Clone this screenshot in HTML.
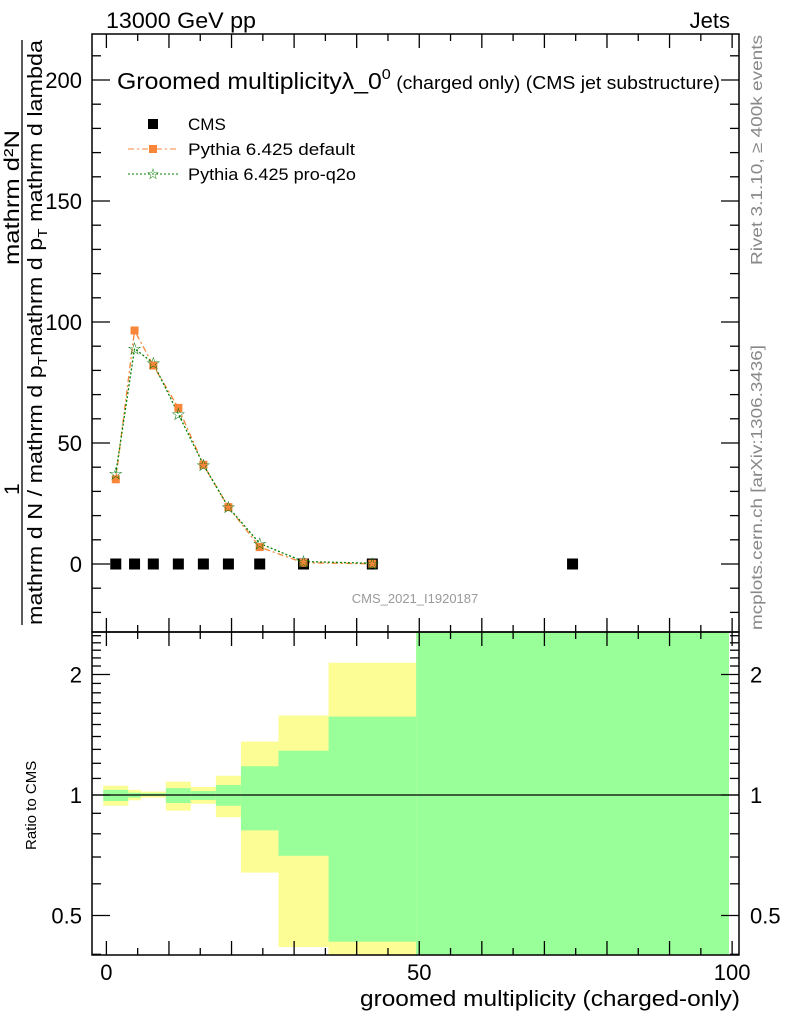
<!DOCTYPE html>
<html><head><meta charset="utf-8"><style>
html,body{margin:0;padding:0;background:#fff;}
svg{display:block;font-family:"Liberation Sans","DejaVu Sans",sans-serif;}
</style></head><body>
<svg id="c" width="786" height="1024" viewBox="0 0 786 1024">
<text x="106" y="28" font-size="22" textLength="150" lengthAdjust="spacingAndGlyphs">13000 GeV pp</text>
<text x="730" y="28" font-size="22" text-anchor="end">Jets</text>
<g id="fills"></g>
<g id="grid"></g>
<g id="marks"></g>
<rect x="92" y="34" width="647" height="598" fill="none" stroke="#000" stroke-width="1.5"/>
<rect x="92" y="632" width="647" height="323" fill="none" stroke="#000" stroke-width="1.5"/>
<text x="117" y="89" font-size="23" textLength="603" lengthAdjust="spacingAndGlyphs">Groomed multiplicityλ_0<tspan dy="-10" font-size="15">0</tspan><tspan dy="10" font-size="18"> (charged only) (CMS jet substructure)</tspan></text>
<g>
<rect x="148" y="119" width="10" height="10" fill="#000"/>
<text x="188" y="130" font-size="17">CMS</text>
<line x1="128" y1="149" x2="178" y2="149" stroke="#f7863a" stroke-dasharray="6,3,2,3"/>
<rect x="149" y="145" width="8" height="8" fill="#f7863a"/>
<text x="188" y="155" font-size="17" textLength="167" lengthAdjust="spacingAndGlyphs">Pythia 6.425 default</text>
<line x1="128" y1="174" x2="178" y2="174" stroke="#008000" stroke-dasharray="2,2"/>
<text x="153" y="179" font-size="15" fill="#008000" font-weight="bold" text-anchor="middle">☆</text>
<text x="188" y="180" font-size="17" textLength="168" lengthAdjust="spacingAndGlyphs">Pythia 6.425 pro-q2o</text>
</g>
<text x="415" y="603" font-size="13" fill="#999" text-anchor="middle">CMS_2021_I1920187</text>
<text transform="translate(762,265) rotate(-90)" font-size="16" fill="#888" textLength="230" lengthAdjust="spacingAndGlyphs">Rivet 3.1.10, ≥ 400k events</text>
<text transform="translate(762,630) rotate(-90)" font-size="16" fill="#888" textLength="285" lengthAdjust="spacingAndGlyphs">mcplots.cern.ch [arXiv:1306.3436]</text>
<g>
<text transform="translate(19,495) rotate(-90)" font-size="21">1</text>
<line x1="22" y1="625" x2="22" y2="40" stroke="#000" stroke-width="1.3"/>
<text transform="translate(19,265) rotate(-90)" font-size="21" textLength="135" lengthAdjust="spacingAndGlyphs">mathrm d²N</text>
<text transform="translate(42,625) rotate(-90)" font-size="20" textLength="585" lengthAdjust="spacingAndGlyphs">mathrm d N / mathrm d p<tspan font-size="13" dy="5">T</tspan><tspan dy="-5">mathrm d p</tspan><tspan font-size="13" dy="5">T</tspan><tspan dy="-5"> mathrm d lambda</tspan></text>
</g>
<text transform="translate(36,850) rotate(-90)" font-size="15">Ratio to CMS</text>
<text x="740" y="1006" font-size="22" text-anchor="end" textLength="380" lengthAdjust="spacingAndGlyphs">groomed multiplicity (charged-only)</text>
</svg>
<script>
const binEdges=[-0.5,3.5,5.5,9.5,13.5,17.5,21.5,27.5,35.5,49.5,99.5];
const binCenters=[1.5,4.5,7.5,11.5,15.5,19.5,24.5,31.5,42.5,74.5];
const cmsValues=[0,0,0,0,0,0,0,0,0,0];
const defaultValues=[35,96.5,82,64.5,41,23.5,7,0.5,0.1];
const proq2oValues=[37.5,89,83,62,41,23.5,8.5,1,0.3];
const bandYellowHi=[1.055,1.03,1.02,1.08,1.047,1.117,1.36,1.58,2.14,3];
const bandYellowLo=[0.94,0.97,0.985,0.914,0.951,0.88,0.64,0.417,0.3,0.3];
const bandGreenHi=[1.03,1.013,1.01,1.04,1.023,1.059,1.18,1.29,1.57,3];
const bandGreenLo=[0.966,0.985,0.995,0.955,0.972,0.94,0.816,0.705,0.43,0.3];
const xTicks=[0,50,100];
const yTicks=[0,50,100,150,200];
const rTicks=[0.5,1,2];

const NS="http://www.w3.org/2000/svg";
const X0=92,X1=739,xmin=-2.3,xmax=101.1;
const sx=v=>X0+(v-xmin)/(xmax-xmin)*(X1-X0);
const sy=v=>564-v*2.42;
const ry=v=>{let y=795-Math.log2(v)*120.5;return Math.max(632,Math.min(955,y));};
function mk(tag,attrs,parent){const e=document.createElementNS(NS,tag);for(const k in attrs)e.setAttribute(k,attrs[k]);document.getElementById(parent).appendChild(e);return e;}

for(let i=0;i<binCenters.length;i++){
  const xa=sx(binEdges[i]),xb=Math.min(sx(binEdges[i+1]),X1);
  let r=mk('rect',{x:xa,y:ry(bandYellowHi[i]),width:xb-xa,height:ry(bandYellowLo[i])-ry(bandYellowHi[i]),fill:'#fdfd96'},'fills');
  
  
  let g=mk('rect',{x:xa,y:ry(bandGreenHi[i]),width:xb-xa,height:ry(bandGreenLo[i])-ry(bandGreenHi[i]),fill:'#99ff99'},'fills');
  
  
}
let l1=mk('line',{x1:X0,x2:X1,y1:ry(1),y2:ry(1),stroke:'#000','stroke-width':1.3},'marks');



for(let v=0;v<=100;v+=5){
  const x=sx(v),len=(v%10===0)?14:7;
  [[34,1],[632,-1],[632,1],[955,-1]].forEach(([y,d])=>{
    const t=mk('line',{x1:x,x2:x,y1:y,y2:y+d*len,stroke:'#000','stroke-width':1.3},'grid');
    
    
  });
}
xTicks.forEach(v=>{const t=mk('text',{x:sx(v),y:980,'font-size':22,'text-anchor':'middle'},'grid');t.textContent=v;
  
  });
for(let v=-20;v<=210;v+=10){
  const y=sy(v);if(y<34||y>632)continue;const len=(v%50===0)?18:9;
  [[X0,1],[X1,-1]].forEach(([x,d])=>{const t=mk('line',{x1:x,x2:x+d*len,y1:y,y2:y,stroke:'#000','stroke-width':1.3},'grid');
    
    });
}
yTicks.forEach(v=>{const t=mk('text',{x:82,y:sy(v)+8,'font-size':22,'text-anchor':'end'},'grid');t.textContent=v;
  
  });
[0.4,0.5,0.6,0.7,0.8,0.9,1,1.1,1.2,1.3,1.4,1.5,1.6,1.7,1.8,1.9,2,2.1,2.2,2.3,2.4,2.5].forEach(v=>{
  const y=ry(v);if(y<=632||y>=955)return;const len=(v===0.5||v===1||v===2)?18:9;
  [[X0,1],[X1,-1]].forEach(([x,d])=>{const t=mk('line',{x1:x,x2:x+d*len,y1:y,y2:y,stroke:'#000','stroke-width':1.3},'grid');
    
    });
});
rTicks.forEach(v=>{
  const t=mk('text',{x:82,y:ry(v)+8,'font-size':22,'text-anchor':'end'},'grid');t.textContent=v;
  
  
  const t2=mk('text',{x:750,y:ry(v)+8,'font-size':22},'grid');t2.textContent=v;
  
  
});

const pd=defaultValues.map((v,i)=>sx(binCenters[i])+','+sy(v)).join(' ');
let ld=mk('polyline',{points:pd,fill:'none',stroke:'#f7863a','stroke-width':1.3,'stroke-dasharray':'6,3,2,3'},'marks');


const pq=proq2oValues.map((v,i)=>sx(binCenters[i])+','+sy(v)).join(' ');
let lq=mk('polyline',{points:pq,fill:'none',stroke:'#008000','stroke-width':1.3,'stroke-dasharray':'2,2'},'marks');


cmsValues.forEach((v,i)=>{const r=mk('rect',{x:sx(binCenters[i])-5.5,y:sy(v)-5.5,width:11,height:11,fill:'#000'},'marks');
  
  });
defaultValues.forEach((v,i)=>{const r=mk('rect',{x:sx(binCenters[i])-4,y:sy(v)-4,width:8,height:8,fill:'#f7863a'},'marks');
  
  });
proq2oValues.forEach((v,i)=>{const t=mk('text',{x:sx(binCenters[i]),y:sy(v)+6,'font-size':17,'text-anchor':'middle',fill:'#007000','font-weight':'bold'},'marks');t.textContent='☆';
  
  });
</script>
</body></html>
